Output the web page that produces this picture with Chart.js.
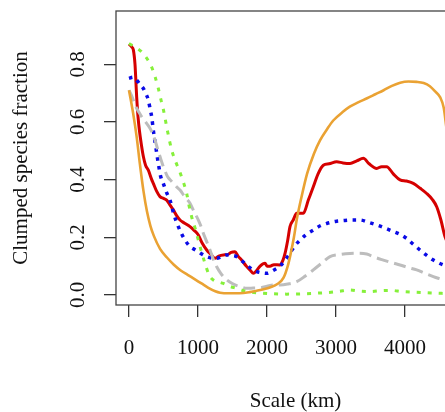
<!DOCTYPE html>
<html>
<head>
<meta charset="utf-8">
<script src="https://cdn.jsdelivr.net/npm/chart.js@4/dist/chart.umd.min.js"></script>
<style>
html,body{margin:0;padding:0;background:#fff;overflow:hidden;}
#wrap{width:500px;height:412px;}
</style>
</head>
<body>
<div id="wrap"><canvas id="c" width="500" height="412"></canvas></div>
<script>
// ---- Data ----
const xTicks = [0, 1000, 2000, 3000, 4000];
const yTicks = [0.0, 0.2, 0.4, 0.6, 0.8];
const xTitle = "Scale (km)";
const yTitle = "Clumped species fraction";

const orangeX = [0,60,110,160,210,260,310,360,450,550,650,750,850,950,1050,1150,1250,1320,1450,1600,1750,1850,1950,2050,2150,2240,2300,2340,2390,2430,2500,2580,2680,2770,2870,2960,3100,3200,3320,3450,3570,3690,3810,3930,4050,4170,4270,4360,4440,4510,4560,4600,4700,4800];
const orangeY = [0.71,0.63,0.55,0.45,0.36,0.29,0.24,0.205,0.16,0.13,0.105,0.085,0.07,0.055,0.04,0.025,0.013,0.008,0.006,0.006,0.01,0.015,0.02,0.027,0.038,0.06,0.1,0.14,0.2,0.26,0.34,0.42,0.49,0.537,0.575,0.605,0.635,0.653,0.668,0.682,0.696,0.71,0.725,0.736,0.74,0.739,0.735,0.724,0.705,0.685,0.65,0.58,0.42,0.28];

const greenX = [0,50,120,184,260,330,380,425,470,500,555,618,680,739,790,836,870,908,960,1005,1050,1101,1160,1222,1300,1367,1460,1560,1706,1850,1947,2100,2285,2500,2700,2900,3050,3200,3350,3500,3650,3800,3950,4100,4300,4500,4650,4800];
const greenY = [0.872,0.865,0.855,0.843,0.82,0.789,0.755,0.716,0.67,0.641,0.572,0.503,0.46,0.425,0.39,0.352,0.31,0.271,0.23,0.19,0.15,0.11,0.07,0.052,0.045,0.04,0.03,0.023,0.012,0.008,0.006,0.004,0.003,0.004,0.006,0.009,0.013,0.017,0.013,0.012,0.015,0.016,0.012,0.01,0.008,0.006,0.005,0.005];

const grayX = [0,40,87,140,184,240,304,340,377,410,449,490,522,560,594,642,690,739,810,884,940,1005,1040,1077,1126,1174,1220,1271,1330,1391,1460,1536,1620,1706,1800,1899,2000,2091,2188,2300,2430,2550,2671,2790,2913,3050,3203,3330,3445,3570,3686,3810,3928,4050,4169,4290,4410,4480,4555,4680,4800];
const grayY = [0.71,0.69,0.659,0.635,0.618,0.6,0.578,0.56,0.537,0.51,0.48,0.45,0.43,0.41,0.4,0.387,0.375,0.364,0.34,0.318,0.29,0.26,0.24,0.214,0.185,0.156,0.125,0.098,0.075,0.058,0.045,0.035,0.028,0.023,0.024,0.025,0.03,0.035,0.035,0.038,0.046,0.065,0.087,0.11,0.133,0.14,0.144,0.145,0.142,0.13,0.121,0.112,0.104,0.095,0.087,0.075,0.064,0.058,0.052,0.045,0.04];

const blueX = [0,60,111,160,208,250,280,310,329,352,390,425,460,497,545,594,650,715,800,884,950,1005,1070,1126,1200,1271,1340,1416,1490,1560,1630,1706,1780,1851,1920,1996,2090,2188,2260,2333,2400,2478,2570,2671,2770,2865,2990,3106,3230,3348,3470,3590,3710,3831,3930,4024,4120,4217,4310,4410,4480,4555,4680,4800];
const blueY = [0.751,0.755,0.745,0.73,0.716,0.695,0.676,0.64,0.618,0.572,0.51,0.456,0.41,0.387,0.355,0.329,0.28,0.237,0.195,0.168,0.158,0.15,0.14,0.133,0.128,0.127,0.133,0.139,0.137,0.133,0.12,0.104,0.09,0.081,0.077,0.075,0.085,0.1,0.12,0.145,0.17,0.19,0.21,0.225,0.24,0.248,0.255,0.258,0.26,0.26,0.252,0.243,0.232,0.22,0.21,0.196,0.176,0.156,0.138,0.121,0.112,0.104,0.095,0.09];

const redX = [0,40,63,87,100,111,130,150,180,208,240,280,329,352,400,449,500,546,600,642,690,739,800,884,940,1005,1060,1126,1190,1246,1300,1367,1430,1480,1536,1580,1633,1700,1760,1802,1850,1900,1971,2000,2043,2100,2188,2230,2261,2300,2333,2380,2430,2526,2600,2671,2740,2816,2900,3010,3100,3203,3300,3396,3480,3590,3660,3734,3830,3928,4020,4120,4220,4314,4400,4459,4520,4580,4680,4800];
const redY = [0.87,0.86,0.85,0.8,0.74,0.687,0.62,0.572,0.52,0.48,0.45,0.433,0.4,0.387,0.36,0.341,0.335,0.329,0.31,0.295,0.275,0.26,0.25,0.237,0.225,0.208,0.18,0.156,0.14,0.127,0.135,0.139,0.14,0.148,0.15,0.135,0.121,0.1,0.085,0.075,0.085,0.1,0.11,0.1,0.1,0.105,0.104,0.12,0.144,0.19,0.237,0.26,0.283,0.283,0.33,0.375,0.42,0.45,0.455,0.462,0.458,0.456,0.465,0.474,0.455,0.439,0.445,0.445,0.42,0.399,0.395,0.387,0.37,0.352,0.33,0.306,0.26,0.202,0.15,0.11];

function pts(xs, ys){ return xs.map((x,i)=>({x:x, y:ys[i]})); }

const SERIF = "'Liberation Serif','DejaVu Serif',serif";

const frame = {
  id:'frame',
  afterDatasetsDraw(chart){
    const a = chart.chartArea, ctx = chart.ctx;
    ctx.save();
    ctx.strokeStyle = '#444';
    ctx.lineWidth = 1.3;
    ctx.strokeRect(a.left, a.top, a.right - a.left, a.bottom - a.top);
    ctx.restore();
  }
};

const mk = (label, xs, ys, color, width, dash) => ({
  label, data: pts(xs, ys), borderColor: color, backgroundColor: color,
  borderWidth: width, borderDash: dash, pointRadius: 0, fill:false,
  cubicInterpolationMode:'monotone', borderCapStyle:'butt'
});

new Chart(document.getElementById('c'), {
  type:'line',
  data:{ datasets:[
    mk('orange', orangeX, orangeY, '#EAA233', 2.6, []),
    mk('green', greenX, greenY, '#86F03A', 3, [4,7]),
    mk('gray', grayX, grayY, '#BDBDBD', 3, [12,6]),
    mk('blue', blueX, blueY, '#0A0AE6', 3.5, [3.5,5.5]),
    mk('red', redX, redY, '#D50000', 3, [])
  ]},
  options:{
    responsive:false, animation:false,
    layout:{ padding:{ top:11, right:25, left:0, bottom:0 } },
    plugins:{ legend:{display:false}, tooltip:{enabled:false} },
    scales:{
      x:{
        type:'linear', min:-188.4, max:5014,
        afterBuildTicks: s => { s.ticks = xTicks.map(v=>({value:v})); },
        afterFit: s => { s.height = 107; s.paddingLeft = 0; s.paddingRight = 0; },
        grid:{ drawOnChartArea:false, drawTicks:true, tickLength:12, color:'#333', lineWidth:1.3 },
        border:{ display:false },
        ticks:{ font:{family:SERIF, size:21}, color:'#111', padding:19, maxRotation:0, autoSkip:false,
                callback: v => String(v) },
        title:{ display:true, text:xTitle, font:{family:SERIF, size:21, lineHeight:1.0}, color:'#111', padding:{top:0,bottom:0} }
      },
      y:{
        type:'linear', min:-0.0347, max:0.9847,
        afterBuildTicks: s => { s.ticks = yTicks.map(v=>({value:v})); },
        afterFit: s => { s.width = 116; s.paddingTop = 0; s.paddingBottom = 0; },
        grid:{ drawOnChartArea:false, drawTicks:true, tickLength:12, color:'#333', lineWidth:1.3 },
        border:{ display:false },
        ticks:{ font:{family:SERIF, size:21}, color:'#111', padding:12, minRotation:90, maxRotation:90,
                crossAlign:'center', autoSkip:false, callback: v => Number(v).toFixed(1) },
        title:{ display:true, text:yTitle, font:{family:SERIF, size:21, lineHeight:1.0}, color:'#111', padding:{top:11,bottom:0} }
      }
    }
  },
  plugins:[frame]
});
</script>
</body>
</html>
